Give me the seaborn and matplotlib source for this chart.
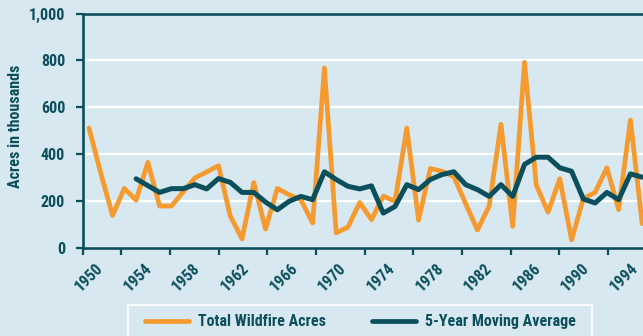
import os
import numpy as np
import pandas as pd
import matplotlib
matplotlib.use("Agg")
import matplotlib.pyplot as plt
from matplotlib.patches import Rectangle
from matplotlib import font_manager
from matplotlib.font_manager import FontProperties
import seaborn as sns

# Annual wildfire acreage (thousands of acres)
years = list(range(1950, 1998))
total_acres = [512, 320, 140, 255, 205, 366, 180, 180, 240, 300,
               325, 352, 138, 40, 280, 82, 255, 228, 207, 108,
               768, 66, 90, 195, 122, 222, 200, 512, 120, 340,
               328, 305, 190, 78, 180, 528, 94, 792, 270, 154,
               296, 36, 212, 238, 343, 165, 546, 105]

# 5-year moving average, first available in 1954
avg_years = list(range(1954, 1998))
moving_avg = [296, 267, 238, 254, 254, 271,
              253, 297, 281, 238, 238, 197, 164, 200, 221, 207,
              326, 293, 264, 253, 266, 150, 178, 271, 250, 293,
              314, 326, 271, 250, 221, 271, 221, 357, 388, 388,
              343, 328, 210, 193, 238, 207, 317, 303]

year_labels = ["1950", "1954", "1958", "1962", "1966", "1970",
               "1974", "1978", "1982", "1986", "1990", "1994"]
y_ticks = [0, 200, 400, 600, 800, 1000]
y_labels = ["0", "200", "400", "600", "800", "1,000"]

series_names = ["Total Wildfire Acres", "5-Year Moving Average"]

BG = "#d8e8f0"
TEAL = "#0b4f5c"
ORANGE = "#f59a2e"

sns.set_style("white", {"axes.facecolor": BG, "figure.facecolor": BG})

# Heavy condensed face for all chart text (size tuned per face)
preferred_files = [("robotocondensed-extrabold.ttf", 11.1),
                   ("robotocondensed-bold.ttf", 11.5),
                   ("pt_sans-narrow-web-bold.ttf", 11.5),
                   ("archivonarrow-bold.ttf", 11.5)]
files = {os.path.basename(f.fname).lower(): f.fname
         for f in font_manager.fontManager.ttflist}
font_path, FS = next(((files[n], s) for n, s in preferred_files if n in files),
                     (None, 9.7))

if font_path:
    def fp(size=FS):
        return FontProperties(fname=font_path, size=size)
else:
    def fp(size=FS):
        return FontProperties(family=["Roboto", "DejaVu Sans"], weight="bold", size=size)

fig = plt.figure(figsize=(6.43, 3.36), dpi=100)
W, H = 643, 336
ax_left, ax_top, ax_bottom = 83.3, 13.5, 248.3
ax = fig.add_axes([ax_left / W, 1 - ax_bottom / H, 1 - ax_left / W, (ax_bottom - ax_top) / H])

df_total = pd.DataFrame({"year": years, "acres": total_acres})
df_avg = pd.DataFrame({"year": avg_years, "acres": moving_avg})

sns.lineplot(data=df_total, x="year", y="acres", ax=ax, color=ORANGE, lw=3.4,
             label=series_names[0], zorder=3, solid_joinstyle="round")
sns.lineplot(data=df_avg, x="year", y="acres", ax=ax, color=TEAL, lw=3.6,
             label=series_names[1], zorder=4, solid_joinstyle="round")

# x scale: 1950 sits just right of the y spine, the right edge clips the last year
px_per_year = 11.77
x0 = 1950 - (89 - ax_left) / px_per_year
x1 = 1950 + (W - 89) / px_per_year
ax.set_xlim(x0, x1)
ax.set_ylim(0, 1000)

label_step = 4.135
lab_pos = 1950 + np.arange(len(year_labels)) * label_step
tick_pos = np.concatenate([[x0], lab_pos[1:] - 1.4])

ax.set_xticks(tick_pos)
ax.set_xticklabels([])
ax.set_xticks(lab_pos, minor=True)
ax.set_xticklabels(year_labels, minor=True, rotation=45, ha="center",
                   color=TEAL, fontproperties=fp())
ax.tick_params(axis="x", which="major", direction="out", length=5, width=1.6,
               color=TEAL, bottom=True)
ax.tick_params(axis="x", which="minor", length=0, pad=9, bottom=True)

ax.set_yticks(y_ticks)
ax.set_yticklabels(y_labels, color=TEAL, fontproperties=fp())
ax.tick_params(axis="y", direction="out", length=5, width=1.6, color=TEAL,
               pad=8, left=True)

ax.grid(axis="y", color="white", lw=1.6, zorder=0)
ax.grid(axis="x", visible=False)
ax.set_axisbelow(True)

for side in ["left", "bottom", "top"]:
    ax.spines[side].set_color(TEAL)
    ax.spines[side].set_linewidth(1.9)
    ax.spines[side].set_zorder(5)
ax.spines["right"].set_visible(False)

ax.set_xlabel("")
ax.set_ylabel("Acres in thousands", color=TEAL, fontproperties=fp())
ax.yaxis.set_label_coords((23 - ax_left) / (W - ax_left), (ax_bottom - 126.5) / (ax_bottom - ax_top))

handles, labels = ax.get_legend_handles_labels()
if ax.get_legend() is not None:
    ax.get_legend().remove()

fig.patches.append(Rectangle((128 / W, -0.05), 464 / W, (H - 305) / H + 0.05,
                             transform=fig.transFigure, facecolor="none",
                             edgecolor="white", lw=1.2, zorder=1))
em = FS * 100 / 72
leg = fig.legend(handles, labels, loc="center left",
                 bbox_to_anchor=(145 / W, 1 - 321.7 / H), ncol=2, frameon=False,
                 borderpad=0, borderaxespad=0, handlelength=44 / em,
                 handletextpad=9 / em, columnspacing=46 / em,
                 prop=fp())
for t in leg.get_texts():
    t.set_color(TEAL)
for lh in leg.get_lines():
    lh.set_linewidth(3.4)

fig.savefig("out.png", dpi=100, facecolor=BG)
